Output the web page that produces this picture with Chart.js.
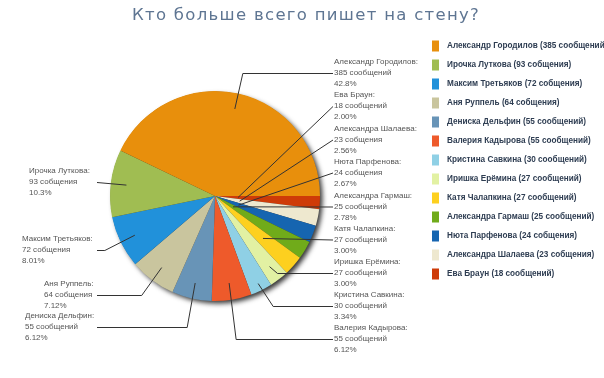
<!DOCTYPE html>
<html><head><meta charset="utf-8">
<script src="https://cdn.jsdelivr.net/npm/chart.js@4.4.0/dist/chart.umd.min.js"></script>
<style>html,body{margin:0;padding:0;background:#fff;}#wrap{width:604px;height:378px;position:relative;}</style>
</head><body><div id="wrap"><canvas id="c" width="604" height="378"></canvas></div>
<script>
const titleText = 'Кто больше всего пишет на стену?';
const names = ['Александр Городилов','Ирочка Луткова','Максим Третьяков','Аня Руппель','Дениска Дельфин','Валерия Кадырова','Кристина Савкина','Иришка Ерёмина','Катя Чалапкина','Александра Гармаш','Нюта Парфенова','Александра Шалаева','Ева Браун'];
const counts = [385,93,72,64,55,55,30,27,27,25,24,23,18];
const countWords = ['сообщений','собщения','собщения','собщения','сообщений','сообщений','сообщений','сообщений','сообщений','сообщений','собщения','собщения','сообщений'];
const percents = ['42.8%','10.3%','8.01%','7.12%','6.12%','6.12%','3.34%','3.00%','3.00%','2.78%','2.67%','2.56%','2.00%'];
const colors = ['#E88F0C','#A0BD52','#2191DA','#C9C59E','#6894B7','#EE5A2B','#8FD0E5','#E2F1A3','#FDD01F','#70AB1A','#1665B0','#EEE8CF','#CE3B08'];

// layout for callouts (index in original order)
const callouts = [
  {side:'r', x:334, y:62,     f:0.85, elbow:8},
  {side:'l', x:29,  y:171,    f:0.85, elbow:null},
  {side:'l', x:22,  y:239,    f:0.85, elbow:-30},
  {side:'l', x:44,  y:284,    f:0.85, elbow:-20},
  {side:'l', x:25,  y:316,    f:0.85, elbow:-8},
  {side:'r', x:334, y:328,    f:0.84, elbow:7},
  {side:'r', x:334, y:295,    f:0.93, elbow:15},
  {side:'r', x:334, y:262,    f:0.85, elbow:8},
  {side:'r', x:334, y:228.5,  f:0.61, elbow:null},
  {side:'r', x:334, y:195.5,  f:0.2,  elbow:null},
  {side:'r', x:334, y:161.5,  f:0.24, elbow:null},
  {side:'r', x:334, y:128.5,  f:0.24, elbow:null},
  {side:'r', x:334, y:95,     f:0.22, elbow:null}
];

const n = names.length;
const rev = a => a.slice().reverse();

const shadowPlugin = {
  id:'shadow',
  beforeDatasetsDraw(chart){
    const arc = chart.getDatasetMeta(0).data[0];
    const ctx = chart.ctx;
    ctx.save();
    ctx.shadowColor = 'rgba(0,0,0,0.8)';
    ctx.shadowBlur = 5;
    ctx.shadowOffsetX = 3;
    ctx.shadowOffsetY = 3;
    ctx.fillStyle = '#333';
    ctx.beginPath();
    ctx.arc(arc.x, arc.y, arc.outerRadius - 0.5, 0, Math.PI*2);
    ctx.fill();
    ctx.restore();
  }
};

const decorPlugin = {
  id:'decor',
  afterDatasetsDraw(chart){
    const ctx = chart.ctx;
    const meta = chart.getDatasetMeta(0);
    ctx.save();
    // title
    ctx.font = '16.5px "DejaVu Sans"';
    ctx.letterSpacing = '1.3px';
    ctx.fillStyle = '#5E7592';
    ctx.textAlign = 'left';
    ctx.textBaseline = 'middle';
    ctx.fillText(titleText, 132, 16);
    ctx.letterSpacing = '0px';

    // callouts
    ctx.font = '8px "Liberation Sans"';
    ctx.textAlign = 'left';
    for (let i = 0; i < n; i++) {
      const el = meta.data[n - 1 - i];
      const c = callouts[i];
      const mid = (el.startAngle + el.endAngle) / 2;
      const ax = el.x + Math.cos(mid) * el.outerRadius * c.f;
      const ay = el.y + Math.sin(mid) * el.outerRadius * c.f;
      const ly = c.y + 11;
      const lx = c.side === 'r' ? 333 : 97;
      ctx.strokeStyle = '#333';
      ctx.lineWidth = 1;
      ctx.beginPath();
      ctx.moveTo(lx, ly + 0.5);
      if (c.elbow !== null) ctx.lineTo(ax + c.elbow, ly + 0.5);
      ctx.lineTo(ax, ay);
      ctx.stroke();
      ctx.fillStyle = '#555';
      ctx.fillText(names[i] + ':', c.x, c.y);
      ctx.fillText(counts[i] + ' ' + countWords[i], c.x, c.y + 11);
      ctx.fillText(percents[i], c.x, c.y + 22);
    }

    // legend
    ctx.font = 'bold 8.2px "Liberation Sans"';
    for (let i = 0; i < n; i++) {
      const y = 46 + i * 19;
      ctx.fillStyle = colors[i];
      ctx.fillRect(432, y - 5.5, 7, 11);
      ctx.fillStyle = '#2E3D52';
      ctx.fillText(names[i] + ' (' + counts[i] + ' ' + countWords[i] + ')', 447, y);
    }
    ctx.restore();
  }
};

new Chart(document.getElementById('c'), {
  type:'pie',
  data:{
    labels: rev(names),
    datasets:[{
      data: rev(counts),
      backgroundColor: rev(colors),
      borderWidth: 0
    }]
  },
  options:{
    responsive:false,
    animation:false,
    rotation:90,
    layout:{padding:{left:110,right:284,top:91,bottom:77}},
    plugins:{legend:{display:false},title:{display:false},tooltip:{enabled:false}},
    events:[]
  },
  plugins:[shadowPlugin, decorPlugin]
});
</script>
</body></html>
